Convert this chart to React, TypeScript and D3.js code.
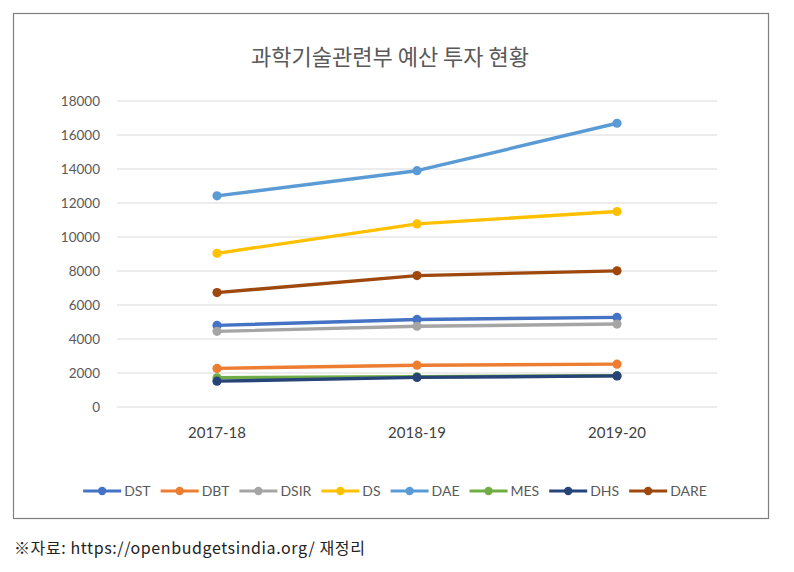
import React, { useEffect, useRef } from "react";
import * as d3 from "d3";

const title = "과학기술관련부 예산 투자 현황";
const footnote = "※자료:  https://openbudgetsindia.org/  재정리";
const years = ["2017-18", "2018-19", "2019-20"];
const yTicks = [0, 2000, 4000, 6000, 8000, 10000, 12000, 14000, 16000, 18000];
const seriesNames = ["DST", "DBT", "DSIR", "DS", "DAE", "MES", "DHS", "DARE"];
const seriesColors = ["#4472C4", "#ED7D31", "#A5A5A5", "#FFC000", "#5B9BD5", "#70AD47", "#264478", "#9E480E"];
const DST = [4800, 5150, 5270];
const DBT = [2270, 2460, 2520];
const DSIR = [4450, 4750, 4880];
const DS = [9040, 10770, 11500];
const DAE = [12420, 13900, 16690];
const MES = [1720, 1780, 1840];
const DHS = [1520, 1740, 1830];
const DARE = [6730, 7730, 8010];
const seriesValues = [DST, DBT, DSIR, DS, DAE, MES, DHS, DARE];

const W = 794, H = 572;
const plot = { left: 117, right: 717, top: 101, bottom: 407 };

export default function App() {
  const legendRef = useRef<SVGGElement>(null);

  const x = d3.scaleBand<string>().domain(years).range([plot.left, plot.right]);
  const y = d3.scaleLinear().domain([0, 18000]).range([plot.bottom, plot.top]);
  const line = d3.line<number>()
    .x((_, i) => (x(years[i]) as number) + x.bandwidth() / 2)
    .y((v) => y(v));

  useEffect(() => {
    const g = d3.select(legendRef.current);
    g.selectAll("*").remove();
    const lineLen = 38, gapText = 3, gapItem = 10;
    const items = g.selectAll("g.item").data(seriesNames).join("g").attr("class", "item");
    items.append("line").attr("x1", 0).attr("x2", lineLen).attr("y1", 0).attr("y2", 0)
      .attr("stroke", (_, i) => seriesColors[i]).attr("stroke-width", 3.2);
    items.append("circle").attr("cx", lineLen / 2).attr("cy", 0).attr("r", 4.2)
      .attr("fill", (_, i) => seriesColors[i]);
    items.append("text").attr("x", lineLen + gapText).attr("y", 0).attr("dy", "0.35em")
      .attr("font-family", "Lato, 'Liberation Sans', sans-serif").attr("font-size", 14)
      .attr("fill", "#595959").text((d) => d);
    const widths: number[] = [];
    items.each(function () {
      const t = d3.select(this).select("text").node() as SVGTextElement;
      widths.push(lineLen + gapText + t.getComputedTextLength());
    });
    const total = d3.sum(widths) + gapItem * (widths.length - 1);
    let cx = 395 - total / 2;
    items.attr("transform", (_, i) => {
      const tx = cx;
      cx += widths[i] + gapItem;
      return `translate(${tx},491)`;
    });
  }, []);

  return (
    <svg width={W} height={H} style={{ position: "absolute", left: 0, top: 0, background: "#fff" }}>
      <rect x={13.5} y={13.5} width={755} height={505} fill="#fff" stroke="#7f7f7f" strokeWidth={1.2} />
      <text x={390} y={57} dy="0.35em" textAnchor="middle" fontFamily="'Noto Sans CJK KR', sans-serif"
        fontSize={22} fill="#595959">{title}</text>
      {yTicks.map((t) => (
        <g key={t}>
          <line x1={plot.left} x2={plot.right} y1={y(t)} y2={y(t)} stroke="#d9d9d9" strokeWidth={1} />
          <text x={100} y={y(t)} dy="0.35em" textAnchor="end" fontFamily="Lato, 'Liberation Sans', sans-serif"
            fontSize={13.5} fill="#595959">{t}</text>
        </g>
      ))}
      {years.map((yr) => (
        <text key={yr} x={(x(yr) as number) + x.bandwidth() / 2} y={433} dy="0.35em" textAnchor="middle"
          fontFamily="Lato, 'Liberation Sans', sans-serif" fontSize={15} fill="#404040">{yr}</text>
      ))}
      {seriesValues.map((vals, si) => (
        <g key={seriesNames[si]}>
          <path d={line(vals) || ""} fill="none" stroke={seriesColors[si]} strokeWidth={3.4} strokeLinejoin="round" />
          {vals.map((v, i) => (
            <circle key={i} cx={(x(years[i]) as number) + x.bandwidth() / 2} cy={y(v)} r={4.6} fill={seriesColors[si]} />
          ))}
        </g>
      ))}
      <g ref={legendRef} />
      <text x={14} y={548} dy="0.35em" fontFamily="'Noto Sans CJK KR', sans-serif" fontSize={16}
        letterSpacing={0.6} fill="#222">{footnote}</text>
    </svg>
  );
}
